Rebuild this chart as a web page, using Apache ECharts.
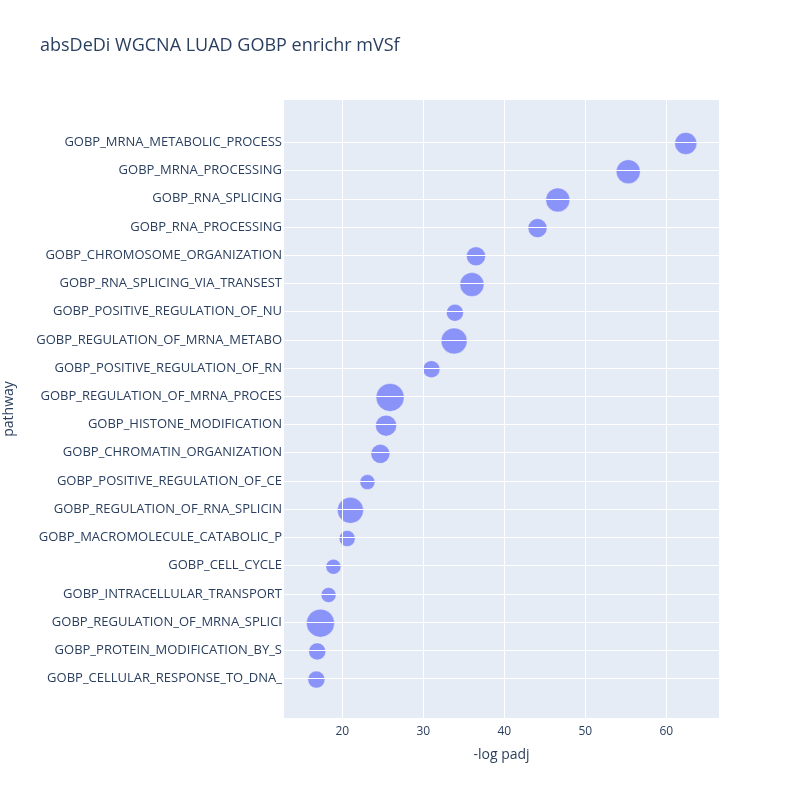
<!DOCTYPE html>
<html>
<head>
<meta charset="utf-8">
<script src="https://cdn.jsdelivr.net/npm/echarts@6/dist/echarts.min.js"></script>
<style>html,body{margin:0;padding:0}#main{width:800px;height:800px}</style>
</head>
<body>
<div id="main"></div>
<script>
// pathways from top to bottom
const pathways = [
  'GOBP_MRNA_METABOLIC_PROCESS', 'GOBP_MRNA_PROCESSING', 'GOBP_RNA_SPLICING',
  'GOBP_RNA_PROCESSING', 'GOBP_CHROMOSOME_ORGANIZATION', 'GOBP_RNA_SPLICING_VIA_TRANSEST',
  'GOBP_POSITIVE_REGULATION_OF_NU', 'GOBP_REGULATION_OF_MRNA_METABO', 'GOBP_POSITIVE_REGULATION_OF_RN',
  'GOBP_REGULATION_OF_MRNA_PROCES', 'GOBP_HISTONE_MODIFICATION', 'GOBP_CHROMATIN_ORGANIZATION',
  'GOBP_POSITIVE_REGULATION_OF_CE', 'GOBP_REGULATION_OF_RNA_SPLICIN', 'GOBP_MACROMOLECULE_CATABOLIC_P',
  'GOBP_CELL_CYCLE', 'GOBP_INTRACELLULAR_TRANSPORT', 'GOBP_REGULATION_OF_MRNA_SPLICI',
  'GOBP_PROTEIN_MODIFICATION_BY_S', 'GOBP_CELLULAR_RESPONSE_TO_DNA_'
]
const logPadj = [62.4, 55.3, 46.6, 44.1, 36.5, 36.0, 33.9, 33.8, 31.0, 25.9,
  25.4, 24.7, 23.1, 21.0, 20.6, 18.9, 18.3, 17.3, 16.9, 16.8]
const markerSize = [22, 24, 24, 19, 19, 24, 17, 26, 17, 28,
  21, 19, 15, 26, 16, 15, 15, 28, 17, 17]

const textColor = '#2a3f5f'
const rows = pathways.map((p, i) => i)

const chart = echarts.init(document.getElementById('main'))
chart.setOption({
  backgroundColor: '#fff',
  title: {
    text: 'absDeDi WGCNA LUAD GOBP enrichr mVSf',
    left: 35, top: 32,
    textStyle: { fontFamily: 'Open Sans', fontSize: 18, fontWeight: 'normal', color: textColor }
  },
  grid: {
    left: 284, right: 81, top: 100, bottom: 82, show: true,
    backgroundColor: '#e5ecf6', borderWidth: 0, outerBoundsMode: 'none', containLabel: false
  },
  xAxis: {
    type: 'value', min: 12.8, max: 66.5, interval: 10,
    name: '-log padj', nameLocation: 'middle', nameGap: 30,
    nameTextStyle: { fontFamily: 'Open Sans', fontSize: 14, color: textColor },
    axisLine: { show: false }, axisTick: { show: false },
    axisLabel: {
      fontFamily: 'Open Sans', fontSize: 12, color: textColor,
      customValues: [20, 30, 40, 50, 60]
    },
    splitLine: { show: false }
  },
  yAxis: {
    type: 'value', inverse: true, min: -1.5, max: 20.4,
    name: 'pathway', nameLocation: 'middle', nameGap: 268,
    nameTextStyle: { fontFamily: 'Open Sans', fontSize: 14, color: textColor },
    axisLine: { show: false }, axisTick: { show: false },
    axisLabel: {
      fontFamily: 'Open Sans', fontSize: 13, color: textColor, margin: 2,
      customValues: rows,
      formatter: v => pathways[Math.round(v)] || ''
    },
    splitLine: { show: false }
  },
  series: [
    {
      type: 'scatter', data: [], silent: true, z: 1,
      markLine: {
        silent: true, symbol: 'none', label: { show: false },
        lineStyle: { color: '#fff', width: 1, type: 'solid' },
        data: [20, 30, 40, 50, 60].map(v => ({ xAxis: v }))
          .concat(rows.map(r => ({ yAxis: r })))
      }
    },
    {
      type: 'scatter', z: 3,
      data: logPadj.map((v, i) => [v, i + 0.04, markerSize[i]]),
      symbolSize: d => d[2],
      itemStyle: { color: '#636efa', opacity: 0.7, borderColor: '#fff', borderWidth: 0.5 }
    }
  ]
})
</script>
</body>
</html>
